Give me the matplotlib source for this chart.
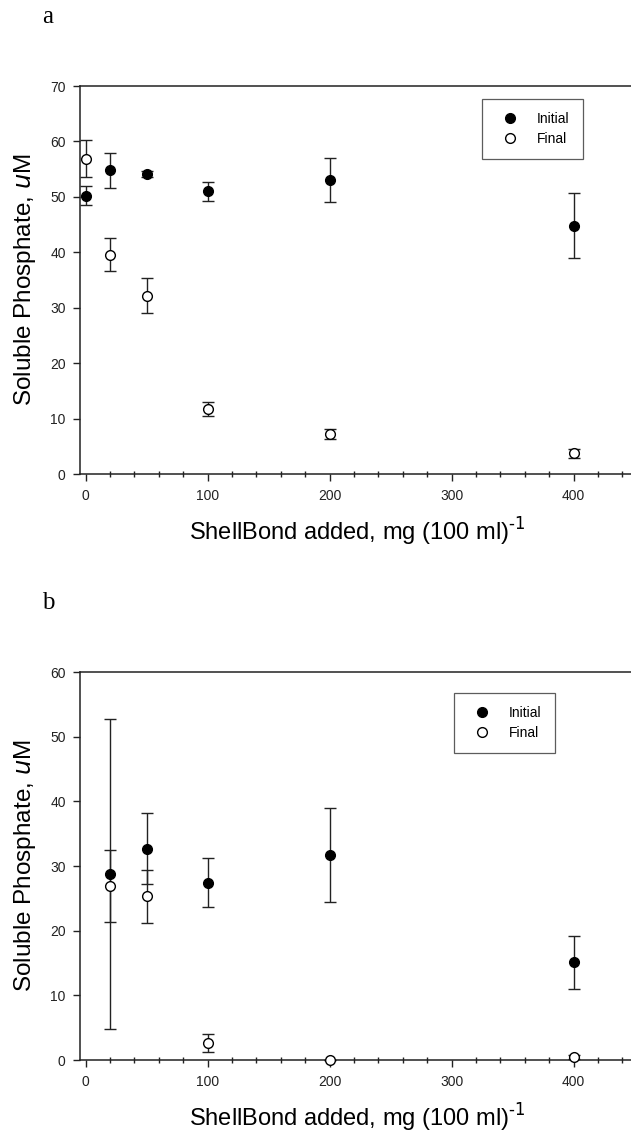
import numpy as np
import matplotlib
matplotlib.use('Agg')
import matplotlib.pyplot as plt
from matplotlib.ticker import MultipleLocator
from matplotlib.lines import Line2D

plt.rcParams['font.family'] = ['Liberation Sans', 'DejaVu Sans']

# Panel a data
a_x_init = [0, 20, 50, 100, 200, 400]
a_init = [50.2, 54.8, 54.1, 51.0, 53.1, 44.8]
a_init_err = [1.7, 3.2, 0.5, 1.7, 4.0, 5.9]
a_x_final = [0, 20, 50, 100, 200, 400]
a_final = [56.9, 39.6, 32.2, 11.7, 7.2, 3.7]
a_final_err = [3.4, 3.0, 3.1, 1.3, 0.9, 0.8]

# Panel b data
b_x_init = [20, 50, 100, 200, 400]
b_init = [28.8, 32.7, 27.4, 31.7, 15.1]
b_init_err = [24.0, 5.5, 3.8, 7.3, 4.1]
b_x_final = [20, 50, 100, 200, 400]
b_final = [26.9, 25.3, 2.6, 0.0, 0.4]
b_final_err = [5.5, 4.1, 1.4, 0.0, 0.3]

xlabel = 'ShellBond added, mg (100 ml)$^{\\text{-1}}$'
ylabel = 'Soluble Phosphate, $\\it{u}$M'

fig = plt.figure(figsize=(6.31, 11.33), dpi=100)
W = 631.0
H = 1133.0
MS = 7


def panel(rect, xi, yi, ei, xf, yf, ef, ymax, legend_box):
    ax = fig.add_axes(rect)
    ax.errorbar(xi, yi, yerr=ei, fmt='o', color='black', ecolor='#222222',
                elinewidth=1.0, capsize=4.5, capthick=1.0, markersize=MS,
                clip_on=False, zorder=3)
    ax.errorbar(xf, yf, yerr=ef, fmt='o', color='black', ecolor='#222222',
                mfc='white', mec='black', mew=1.0,
                elinewidth=1.0, capsize=4.5, capthick=1.0, markersize=MS,
                clip_on=False, zorder=3)
    ax.set_xlim(-5, 450)
    ax.set_ylim(0, ymax)
    ax.xaxis.set_major_locator(MultipleLocator(100))
    ax.xaxis.set_minor_locator(MultipleLocator(20))
    ax.yaxis.set_major_locator(MultipleLocator(10))
    ax.spines['right'].set_visible(False)
    for s in ['top', 'bottom', 'left']:
        ax.spines[s].set_linewidth(1.1)
        ax.spines[s].set_color('#222222')
    ax.tick_params(axis='x', which='major', direction='out', length=5,
                   width=1, labelsize=10, colors='#222222', pad=6)
    ax.tick_params(axis='x', which='minor', direction='inout', length=4,
                   width=1, colors='#222222')
    ax.tick_params(axis='y', which='major', direction='out', length=5,
                   width=1, labelsize=10, colors='#222222', pad=5)
    ax.set_xlabel(xlabel, fontsize=17, labelpad=9)
    ax.set_ylabel(ylabel, fontsize=17.5, labelpad=9)
    handles = [
        Line2D([], [], ls='none', marker='o', color='black', markersize=MS),
        Line2D([], [], ls='none', marker='o', mfc='white', mec='black',
               mew=1.0, markersize=MS),
    ]
    leg = ax.legend(handles, ['Initial', 'Final'], loc='upper left',
                    bbox_to_anchor=legend_box, frameon=True, fancybox=False,
                    fontsize=10, handletextpad=0.86, borderpad=0.94,
                    labelspacing=0.45, handlelength=2.16, borderaxespad=0)
    leg.get_frame().set_edgecolor('#333333')
    leg.get_frame().set_linewidth(0.9)
    return ax


# axes span x 79.6..634.5 px (right end just past the image edge)
ax1 = panel([79.6 / W, (H - 474) / H, (634.5 - 79.6) / W, 388 / H],
            a_x_init, a_init, a_init_err, a_x_final, a_final, a_final_err,
            70, ((482 - 79.6) / (634.5 - 79.6), 1 - (99 - 86) / 388))
ax2 = panel([79.6 / W, (H - 1060) / H, (634.5 - 79.6) / W, 388 / H],
            b_x_init, b_init, b_init_err, b_x_final, b_final, b_final_err,
            60, ((454 - 79.6) / (634.5 - 79.6), 1 - (693 - 672) / 388))

fig.text(48 / W, 1 - 23.3 / H, 'a', family='Liberation Serif', fontsize=18,
         ha='center', va='baseline')
fig.text(48 / W, 1 - 609 / H, 'b', family='Liberation Serif', fontsize=18,
         ha='center', va='baseline')

fig.savefig('out.png', dpi=100)
